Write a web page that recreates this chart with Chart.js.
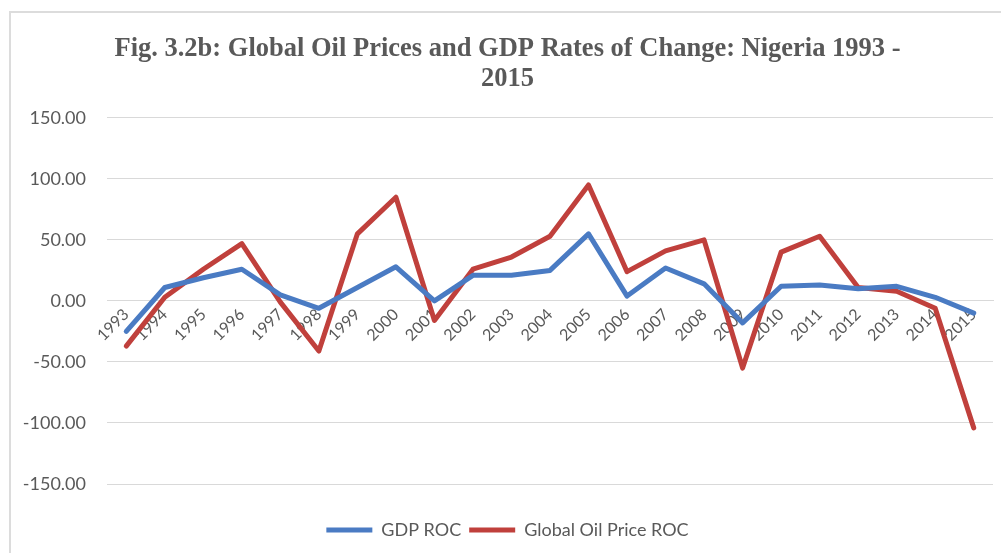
<!DOCTYPE html>
<html>
<head>
<meta charset="utf-8">
<script src="https://cdn.jsdelivr.net/npm/chart.js@4.4.1/dist/chart.umd.min.js"></script>
<style>
  html, body { margin: 0; padding: 0; background: #ffffff; }
  #wrap { position: relative; width: 1001px; height: 553px; overflow: hidden; }
  #frame { position: absolute; left: 9px; top: 11px; width: 1100px; height: 600px;
           border-left: 2px solid #dcdcdc; border-top: 2px solid #dcdcdc; pointer-events: none; }
  canvas { position: absolute; left: 0; top: 0; }
</style>
</head>
<body>
<div id="wrap">
  <canvas id="c" width="1001" height="553"></canvas>
  <div id="frame"></div>
</div>
<script>
const years = ["1993","1994","1995","1996","1997","1998","1999","2000","2001","2002","2003",
               "2004","2005","2006","2007","2008","2009","2010","2011","2012","2013","2014","2015"];
const gdpRoc = [-25, 11, 19, 26, 5, -6, 11, 28, 0, 21, 21, 25, 55, 4, 27, 14, -18, 12, 13, 10, 12, 3, -10];
const oilRoc = [-37, 3, 26, 47, -1, -41, 55, 85, -16, 26, 36, 53, 95, 24, 41, 50, -55, 40, 53, 11, 8, -6, -104];
const yTicks = [-150, -100, -50, 0, 50, 100, 150];
const titleLines = ["Fig. 3.2b: Global Oil Prices and GDP Rates of Change: Nigeria 1993 -", "2015"];
const seriesNames = ["GDP ROC", "Global Oil Price ROC"];

const BLUE = "#4a7bc3";
const RED = "#c0403c";
const TEXT = "#595959";
const SANS = "Lato, 'Open Sans', sans-serif";

new Chart(document.getElementById("c"), {
  type: "line",
  data: {
    labels: years,
    datasets: [
      { label: seriesNames[0], data: gdpRoc, borderColor: BLUE, backgroundColor: BLUE,
        borderWidth: 5, pointRadius: 0, tension: 0, borderJoinStyle: "round", borderCapStyle: "round",
        pointStyle: "line" },
      { label: seriesNames[1], data: oilRoc, borderColor: RED, backgroundColor: RED,
        borderWidth: 5, pointRadius: 0, tension: 0, borderJoinStyle: "round", borderCapStyle: "round",
        pointStyle: "line" }
    ]
  },
  options: {
    responsive: false,
    animation: false,
    layout: { padding: { left: 22, right: 8, top: 0, bottom: 4 } },
    plugins: {
      title: {
        display: true,
        text: titleLines,
        color: TEXT,
        font: { family: "'Liberation Serif', 'Times New Roman', serif", size: 26.5, weight: "bold", lineHeight: 1.13 },
        padding: { top: 34, bottom: 24 }
      },
      legend: {
        position: "bottom",
        title: { display: true, text: " ", font: { size: 10, lineHeight: 1 }, padding: { top: 19, bottom: 0 } },
        labels: {
          color: TEXT,
          font: { family: SANS, size: 18 },
          usePointStyle: true,
          pointStyleWidth: 46,
          padding: 8
        }
      },
      tooltip: { enabled: false }
    },
    scales: {
      x: {
        position: { y: 0 },
        offset: true,
        grid: { display: false, drawTicks: false },
        border: { display: true, color: "#d9d9d9", width: 1 },
        afterFit: (s) => { s.paddingLeft = 0; s.paddingRight = 0; },
        ticks: {
          color: TEXT,
          font: { family: SANS, size: 16 },
          minRotation: 45, maxRotation: 45, autoSkip: false, padding: 4
        }
      },
      y: {
        min: -150, max: 150,
        afterBuildTicks: (s) => { s.ticks = yTicks.map(v => ({ value: v })); },
        afterFit: (s) => { s.width = 85; },
        grid: { color: "#d9d9d9", lineWidth: 1, drawTicks: false },
        border: { display: false },
        ticks: {
          color: TEXT,
          font: { family: SANS, size: 18 },
          padding: 21,
          callback: (v) => Number(v).toFixed(2)
        }
      }
    }
  }
});
</script>
</body>
</html>
